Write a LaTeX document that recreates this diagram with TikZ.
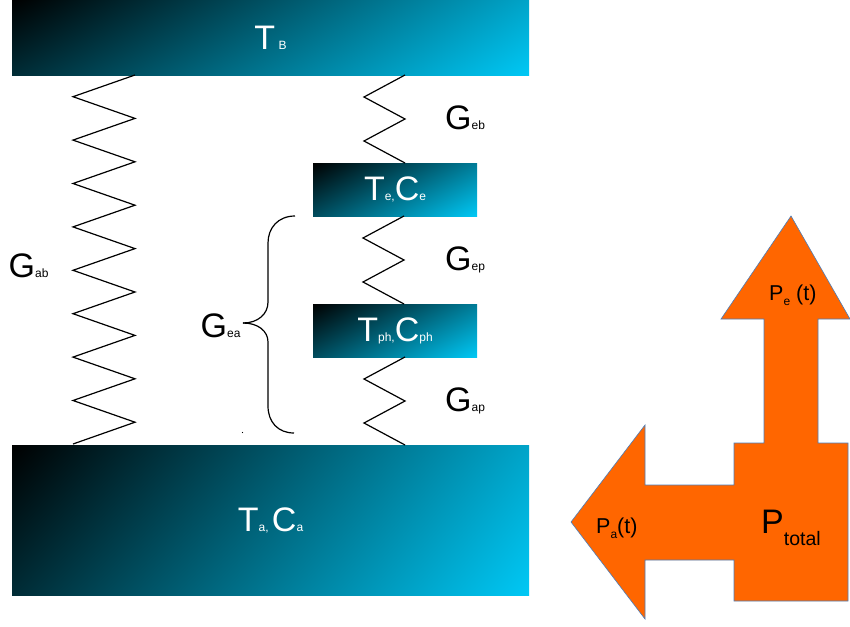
\documentclass[tikz,border=0pt]{standalone}
\usepackage{fontspec}
\setmainfont{Liberation Sans}
\usetikzlibrary{shadings}
\newcommand{\bigtxt}[1]{{\fontsize{34}{34}\selectfont #1}}
\newcommand{\subtxt}[1]{{\fontsize{12}{12}\selectfont #1}}
\newcommand{\midtxt}[1]{{\fontsize{21.5}{21.5}\selectfont #1}}
\definecolor{platedark}{HTML}{000000}
\definecolor{platelight}{HTML}{00C8F5}
\definecolor{powerfill}{HTML}{FF6600}
\definecolor{poweredge}{HTML}{4A7EBB}
\tikzset{
	plate/.style={shading=bilinear interpolation, upper left=platedark, lower right=platelight, inner sep=0pt, text=white},
	wideplate/.style={plate, upper right=platelight!82!black, lower left=platelight!22!black},
	smallplate/.style={plate, upper right=platelight!62!black, lower left=platelight!38!black, minimum width=164pt, minimum height=53pt},
	cond/.style={anchor=base west, inner sep=0pt},
	spring/.style={line width=1.2pt, line join=miter}
}
\begin{document}
\begin{tikzpicture}[x=1pt, y=-1pt, line join=round]
		\useasboundingbox (0,0) rectangle (850,626);
		\node[wideplate, minimum width=517pt, minimum height=75pt] (tb) at (270.5,37.5) {\bigtxt{T}\subtxt{\ B}};
		\node[wideplate, minimum width=517pt, minimum height=150pt] (ta) at (270.5,520) {\bigtxt{T}\subtxt{a, }\bigtxt{C}\subtxt{a}};
		\node[smallplate] (te) at (395,189.5) {\bigtxt{T}\subtxt{e,}\bigtxt{C}\subtxt{e}};
		\node[smallplate] (tph) at (395,330.5) {\bigtxt{T}\subtxt{ph,}\bigtxt{C}\subtxt{ph}};
		\coordinate (abtop) at (135,75);\coordinate (ablow) at (73,444);
		\coordinate (ebtop) at (405,75);\coordinate (eblow) at (405,163);
		\coordinate (eptop) at (404,216);\coordinate (eplow) at (404,304);
		\coordinate (aptop) at (405,357);\coordinate (aplow) at (405,445);
		\draw[spring] (abtop) \foreach \k in {1,...,8} {-- ++(-62,21.7) -- ++(62,21.7)} -- (ablow);
		\draw[spring] (ebtop) -- ++(-41,22) -- ++(41,22) -- ++(-41,22) -- (eblow);
		\draw[spring] (eptop) -- ++(-41,22) -- ++(41,22) -- ++(-41,22) -- (eplow);
		\draw[spring] (aptop) -- ++(-41,22) -- ++(41,22) -- ++(-41,22) -- (aplow);
		\coordinate (braceup) at (295,216);\coordinate (bracetip) at (243,323);\coordinate (bracelow) at (294,433);
		\draw[spring] (braceup) .. controls (278,216) and (268,228) .. (268,243) -- (268,302) .. controls (268,314) and (258,323) .. (bracetip);
		\draw[spring] (bracetip) .. controls (258,323) and (268,331) .. (268,342) -- (268,406) .. controls (268,422) and (278,433) .. (bracelow);
		\fill (242.5,432.5) circle (0.6);
		\node[cond] (gab) at (8.5,277) {\bigtxt{G}\subtxt{ab}};
		\node[cond] (gea) at (200.5,337) {\bigtxt{G}\subtxt{ea}};
		\node[cond] (geb) at (445,129) {\bigtxt{G}\subtxt{eb}};
		\node[cond] (gep) at (445,270) {\bigtxt{G}\subtxt{ep}};
		\node[cond] (gap) at (445,411) {\bigtxt{G}\subtxt{ap}};
		\draw[fill=powerfill, draw=poweredge, line width=0.6pt, line join=miter] (791,216) -- (850,319) -- (818,319) -- (818,443) -- (848,443) -- (848,601) -- (734,601) -- (734,560) -- (645,560) -- (645,619) -- (571,522) -- (645,425) -- (645,485) -- (734,485) -- (734,443) -- (764,443) -- (764,319) -- (721,319) -- cycle;
		\node[cond] (pe) at (769,300) {\midtxt{P}\raisebox{-5pt}{\subtxt{e}}\midtxt{ (t)}};
		\node[cond] (pa) at (596,533) {\midtxt{P}\raisebox{-5pt}{\subtxt{a}}\midtxt{(t)}};
		\node[cond] (ptotal) at (761,533) {\bigtxt{P}\raisebox{-12pt}{\fontsize{19.5}{19.5}\selectfont total}};
\end{tikzpicture}
\end{document}
